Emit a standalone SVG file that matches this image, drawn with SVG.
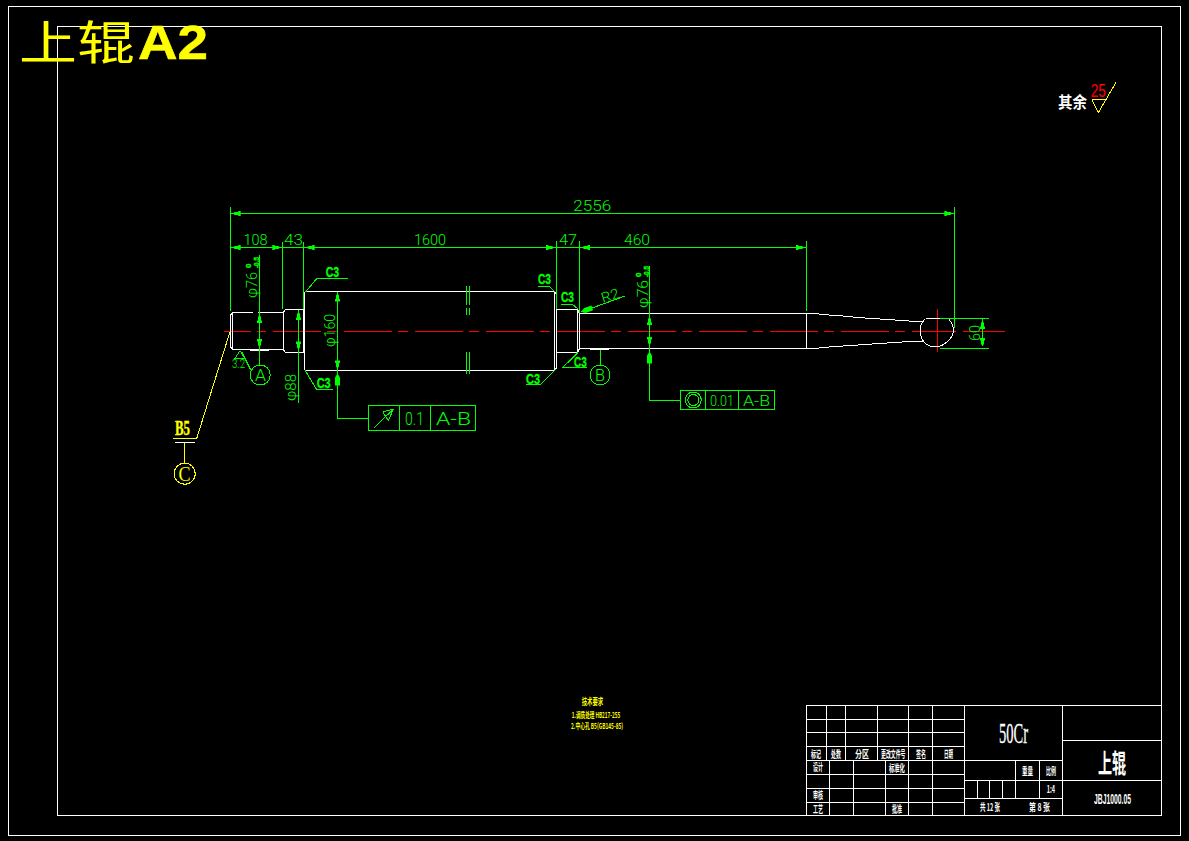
<svg xmlns="http://www.w3.org/2000/svg" width="1189" height="841" viewBox="0 0 1189 841">
<style>
.w{fill:none;stroke:#fff;stroke-width:1;shape-rendering:crispEdges}
.g{fill:none;stroke:#0f0;stroke-width:1;shape-rendering:crispEdges}
.y{fill:none;stroke:#ff0;stroke-width:1;shape-rendering:crispEdges}
.r{fill:none;stroke:#f00;stroke-width:1;shape-rendering:crispEdges}
text{font-family:"Liberation Sans","Noto Sans CJK SC",sans-serif}
.d{fill:#0f0;font-size:14px;font-family:Roboto,"Liberation Sans",sans-serif;font-weight:300}
.c{fill:#0f0;font-size:14px;font-weight:bold;stroke:#0f0;stroke-width:.3}
.t{fill:#fff;font-size:10px;font-weight:bold;font-family:"Noto Sans CJK SC",sans-serif}
.s{fill:#0f0;font-size:8px;font-weight:bold;stroke:#0f0;stroke-width:.4}
.n{font-family:"Noto Sans CJK SC",sans-serif}
</style>
<defs>
<path id="ar" fill="#0f0" d="M-8 -2.5H-5.5V-1.5H-2L0 0L-2 1.5H-5.5V2.5H-8Z"/>
<path id="ab" fill="#0f0" d="M-12 -2.5H-4L0 0L-4 2.5H-12Z"/>
</defs>
<rect width="1189" height="841" fill="#000"/>
<g id="frame">
<rect class="w" x="8.5" y="6.5" width="1172" height="828.5"/>
<rect class="w" x="57.5" y="26.5" width="1104" height="788.5"/>
</g>
<g id="title">
<text class="n" transform="translate(19 59) scale(1.26 1)" font-size="46" fill="#ff0">上辊</text>
<text x="138" y="59" font-size="49" font-weight="bold" fill="#ff0" stroke="#ff0" stroke-width=".6" textLength="70" lengthAdjust="spacingAndGlyphs">A2</text>
</g>
<g id="centerlines">
<path class="r" d="M224 331.5H250.7M256.7 331.5H266M962.7 331.5H1005M937.5 309V351.7"/>
<path class="r" d="M272.7 331.5H956" stroke-dasharray="48 6.7 9.3 7"/>
</g>
<g id="shaft">
<path class="w" d="M232.500 312.500H253M258 312.500H283.500M283.500 312.500V349.500H232.500V312.500M232.500 312.500L230.500 315V347L232.500 349.500"/>
<path class="w" d="M285.500 309.500H303.500V352.500H285.500L283.500 350V312Z"/>
<path class="w" d="M305.500 291.500H554.500V370.500H305.500L304.500 369V293Z"/>
<path class="w" d="M554.500 291.500L556.500 294V368L554.500 370.500"/>
<path class="w" d="M556.500 309.500H577.500V352.500H556.500M577.500 309.500L579.500 313.500V348.500L577.500 352.500"/>
<path class="w" d="M579.500 313.500H806.500V348.500H579.500"/>
<path class="w" d="M806.500 313.500H814L829 315L843 316L858 317.500L872 318.500L887 319.500L902 320.500L916 321.500H923M806.500 348.500H814L829 347L843 346L858 345L872 344L887 343L902 342L916 341H923"/>
<path class="w" d="M923 321.500L925 319M926 318.500H948M949 319.500C952 323 954 326 953.500 331C953 338 944 347 935 347C926 347 921 340 920 332C920 328 921 324 923 321.500"/>
<path class="w" stroke-width="1.500" d="M250 350.500H269M590 349.500H609"/>
</g>
<g id="dimensions">
<path class="g" d="M230.500 207V311M954.500 207V327.700M230.500 213.500H954.500"/>
<path class="g" d="M230.500 247.500H806.500M282.500 241.700V309M303.500 241.700V309M556.500 241V309M579.500 241V313M806.500 241V311"/>
<path class="g" d="M259.500 255V365M298.500 310V403M337.500 291.500V418.500H368.500M649.500 266V400.500H680.500"/>
<path class="g" d="M940 318.500H989M940 348.500H989M982.500 318.500V346"/>
<path class="g" d="M466.500 286V305M469.500 286V305M466.500 308V315M469.500 308V315M466.500 352V374M469.500 352V374"/>
<use href="#ar" transform="translate(232.700 213.500) rotate(180)"/>
<use href="#ar" transform="translate(952.300 213.500)"/>
<use href="#ar" transform="translate(232.700 247.500) rotate(180)"/>
<use href="#ar" transform="translate(280.300 247.500)"/>
<use href="#ar" transform="translate(306.700 247.500) rotate(180)"/>
<use href="#ar" transform="translate(554 247.500)"/>
<use href="#ar" transform="translate(582 247.500) rotate(180)"/>
<use href="#ar" transform="translate(804 247.500)"/>
<use href="#ar" transform="translate(259.500 315) rotate(-90)"/>
<use href="#ar" transform="translate(259.500 347) rotate(90)"/>
<use href="#ar" transform="translate(298.500 312) rotate(-90)"/>
<use href="#ar" transform="translate(298.500 349.500) rotate(90)"/>
<use href="#ar" transform="translate(337.500 293.500) rotate(-90)"/>
<use href="#ar" transform="translate(337.500 368.500) rotate(90)"/>
<use href="#ab" transform="translate(337.500 373.500) rotate(-90)"/>
<use href="#ar" transform="translate(649.500 317) rotate(-90)"/>
<use href="#ar" transform="translate(649.500 345) rotate(90)"/>
<use href="#ab" transform="translate(649.500 351.500) rotate(-90)"/>
<use href="#ar" transform="translate(982.500 321) rotate(-90)"/>
<use href="#ar" transform="translate(982.500 346) rotate(90)"/>
<use href="#ab" transform="translate(581 312) rotate(160)"/>
<path class="g" d="M625 296L581 312"/>
<text class="d" x="573.300" y="211" textLength="38" lengthAdjust="spacingAndGlyphs">2556</text>
<text class="d" x="243.500" y="245" textLength="24" lengthAdjust="spacingAndGlyphs">108</text>
<text class="d" x="284" y="245" textLength="19" lengthAdjust="spacingAndGlyphs">43</text>
<text class="d" x="414" y="245" textLength="32" lengthAdjust="spacingAndGlyphs">1600</text>
<text class="d" x="559" y="245" textLength="18" lengthAdjust="spacingAndGlyphs">47</text>
<text class="d" x="624" y="245" textLength="26" lengthAdjust="spacingAndGlyphs">460</text>
<text class="d" transform="translate(257 298) rotate(-90)" textLength="26" lengthAdjust="spacingAndGlyphs">φ76</text>
<text class="s" transform="translate(251 268) rotate(-90)">0</text>
<text class="s" transform="translate(259 268) rotate(-90)" textLength="11" lengthAdjust="spacingAndGlyphs">-0.5</text>
<text class="d" transform="translate(648 308) rotate(-90)" textLength="28" lengthAdjust="spacingAndGlyphs">φ76</text>
<text class="s" transform="translate(641 277) rotate(-90)">0</text>
<text class="s" transform="translate(649 277) rotate(-90)" textLength="11" lengthAdjust="spacingAndGlyphs">-0.5</text>
<text class="d" transform="translate(335 347) rotate(-90)" textLength="33" lengthAdjust="spacingAndGlyphs">φ160</text>
<text class="d" transform="translate(296 401) rotate(-90)" textLength="27" lengthAdjust="spacingAndGlyphs">φ88</text>
<text class="d" transform="translate(980 341) rotate(-90)" textLength="16" lengthAdjust="spacingAndGlyphs">60</text>
<text class="d" transform="translate(603 303) rotate(-18)" textLength="18" lengthAdjust="spacingAndGlyphs">R2</text>
</g>
<g id="chamfers">
<path class="g" d="M305.700 291.700L316.700 278.500H347.700M305 370.300L316.700 389.500H333.300M538.300 286.500H549.300L555 291.700M561 304.500H572.700L578.300 309.300M578.300 352.300L562.700 367.500H586.700M556 369.300L540.700 384.500H526"/>
<text class="c" x="325.700" y="277" textLength="13.500" lengthAdjust="spacingAndGlyphs">C3</text>
<text class="c" x="316.700" y="388" textLength="14" lengthAdjust="spacingAndGlyphs">C3</text>
<text class="c" x="538" y="284" textLength="13" lengthAdjust="spacingAndGlyphs">C3</text>
<text class="c" x="561" y="301.500" textLength="13" lengthAdjust="spacingAndGlyphs">C3</text>
<text class="c" x="574" y="366.500" textLength="12.700" lengthAdjust="spacingAndGlyphs">C3</text>
<text class="c" x="526" y="384" textLength="14" lengthAdjust="spacingAndGlyphs">C3</text>
</g>
<g id="datum-A">
<circle class="g" cx="260.300" cy="375" r="10"/>
<text class="d" x="255" y="381" style="font-size:17px" textLength="11" lengthAdjust="spacingAndGlyphs">A</text>
<path class="g" d="M240 350.700L235 358.500H245ZM241.700 351.700L250.700 370"/>
<text class="d" x="232" y="367.700" style="font-size:12px" textLength="13" lengthAdjust="spacingAndGlyphs">3.2</text>
</g>
<g id="datum-B">
<circle class="g" cx="600" cy="375" r="10"/>
<path class="g" d="M600.500 349.500V365"/>
<text class="d" x="595" y="381" style="font-size:17px" textLength="10" lengthAdjust="spacingAndGlyphs">B</text>
</g>
<g id="tolerance-runout">
<rect class="g" x="368.500" y="405.500" width="106.500" height="25"/>
<path class="g" d="M399.500 405.500V430.500M430.500 405.500V430.500M374 427.700L393.300 409.300L382.700 411.700M393.300 409.300L388.300 420.700L382.700 411.700"/>
<text class="d" x="405" y="425" style="font-size:18px" textLength="19" lengthAdjust="spacingAndGlyphs">0.1</text>
<text class="d" x="436" y="425" style="font-size:18px" textLength="35" lengthAdjust="spacingAndGlyphs">A-B</text>
</g>
<g id="tolerance-concentricity">
<rect class="g" x="680.500" y="390.500" width="94" height="19"/>
<path class="g" d="M705.500 390.500V409.500M738.500 390.500V409.500"/>
<circle class="g" cx="693.300" cy="400" r="8"/>
<circle class="g" cx="693.300" cy="400" r="5.500"/>
<text class="d" x="710" y="406" textLength="24" lengthAdjust="spacingAndGlyphs">0.01</text>
<text class="d" x="743" y="406" textLength="27" lengthAdjust="spacingAndGlyphs">A-B</text>
</g>
<g id="center-hole">
<path class="y" d="M230 331.700L196.700 438.500H173.300M184.500 442.500V463"/>
<path class="w" d="M175 442.500H195"/>
<circle class="y" cx="184.700" cy="473.700" r="10.500"/>
<text x="175" y="435" fill="#ff0" stroke="#ff0" stroke-width=".4" font-size="20" font-weight="bold" style="font-family:'Liberation Serif',serif" textLength="15" lengthAdjust="spacingAndGlyphs">B5</text>
<text x="178.500" y="481" fill="#ff0" font-size="20" style="font-family:'Liberation Serif',serif" textLength="12" lengthAdjust="spacingAndGlyphs">C</text>
</g>
<g id="roughness">
<text class="n" x="1058" y="108" font-size="16" font-weight="bold" fill="#fff" textLength="29" lengthAdjust="spacingAndGlyphs">其余</text>
<text x="1090.700" y="97" font-size="18" fill="#f00" textLength="15.300" lengthAdjust="spacingAndGlyphs">25</text>
<path class="y" d="M1091.700 99.500H1106M1091.700 99.500L1098.300 112.700L1116 82.300"/>
</g>
<g id="notes" fill="#ff0" font-weight="bold">
<text class="n" transform="translate(581.700 705) scale(.6 1)" font-size="9">技术要求</text>
<text class="n" transform="translate(571.700 718) scale(.58 1)" font-size="8">1.调质处理 HB217-255</text>
<text class="n" transform="translate(571 729) scale(.6 1)" font-size="8">2.中心孔 B5(GB145-85)</text>
</g>
<g id="title-block">
<path class="w" d="M806.500 705.500H1161.500V815H806.500ZM806.500 719.500H964.500M806.500 732.500H964.500M806.500 746.500H964.500M806.500 760.500H1062.500M806.500 774.500H964.500M806.500 788.500H964.500M806.500 802.500H964.500M826.500 705.500V760.500M845.500 705.500V760.500M877.500 705.500V760.500M908.500 705.500V815M932.500 705.500V815M964.500 705.500V815M829.500 760.500V815M853.500 760.500V815M885.500 760.500V815M1062.500 705.500V815M1062.500 740.500H1161.500M1062.500 780.500H1161.500M964.500 780.500H1062.500M964.500 798.500H1062.500M1015.500 760.500V798.500M1039.500 760.500V798.500M977.500 780.500V798.500M989.500 780.500V798.500M1002.500 780.500V798.500"/>
<text class="t" transform="translate(811 758) scale(.5 1)">标记</text>
<text class="t" transform="translate(831 758) scale(.5 1)">处数</text>
<text class="t" transform="translate(855 758) scale(.7 1)">分区</text>
<text class="t" transform="translate(881 758) scale(.49 1)">更改文件号</text>
<text class="t" transform="translate(916 758) scale(.5 1)">签名</text>
<text class="t" transform="translate(944 758) scale(.45 1)">日期</text>
<text class="t" transform="translate(813 771) scale(.5 1)">设计</text>
<text class="t" transform="translate(889 772) scale(.53 1)">标准化</text>
<text class="t" transform="translate(813 799) scale(.5 1)">审核</text>
<text class="t" transform="translate(813 813) scale(.5 1)">工艺</text>
<text class="t" transform="translate(892 813) scale(.5 1)">批准</text>
<text x="999" y="743" fill="#fff" font-size="30" stroke="#fff" stroke-width=".3" style="font-family:'Liberation Serif',serif" textLength="29" lengthAdjust="spacingAndGlyphs">50Cr</text>
<text class="n" transform="translate(1098 773) scale(.54 1)" fill="#fff" font-weight="bold" font-size="26">上辊</text>
<text class="t" transform="translate(1022 775) scale(.55 1)">重量</text>
<text class="t" transform="translate(1046 775) scale(.5 1)">比例</text>
<text class="t" x="1046.700" y="793" textLength="8.300" lengthAdjust="spacingAndGlyphs">1:4</text>
<text class="t" x="980" y="811" textLength="20" lengthAdjust="spacingAndGlyphs">共 12 张</text>
<text class="t" x="1029" y="811" textLength="21" lengthAdjust="spacingAndGlyphs">第 8 张</text>
<text x="1094" y="804" fill="#fff" font-weight="bold" font-size="14" textLength="37" lengthAdjust="spacingAndGlyphs">JBJ1000.05</text>
</g>
</svg>
